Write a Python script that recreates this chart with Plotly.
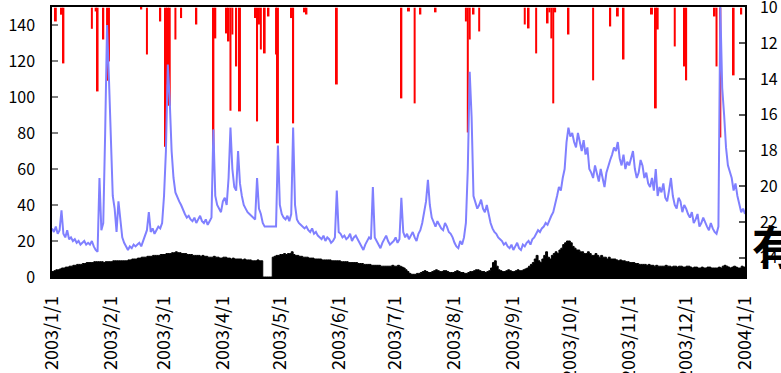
import datetime as dt
import plotly.graph_objects as go

# ---- data ----
start = dt.date(2003, 1, 1)

flow = [
    27, 25, 28, 24, 26, 37, 24, 22, 26, 21,
    22, 20, 21, 19, 20, 18, 19, 20, 18, 19,
    18, 20, 17, 15, 14, 55, 26, 30, 80, 140,
    110, 75, 45, 38, 25, 42, 30, 22, 19, 17,
    15, 17, 16, 18, 17, 18, 19, 17, 20, 22,
    26, 36, 25, 27, 24, 26, 28, 27, 30, 45,
    70, 118, 98, 70, 55, 47, 44, 42, 40, 37,
    35, 33, 34, 32, 31, 33, 30, 32, 34, 31,
    30, 32, 29, 31, 33, 82, 45, 40, 38, 36,
    42, 44, 40, 55, 83, 60, 50, 48, 70, 52,
    45, 40, 38, 36, 35, 34, 33, 32, 55, 38,
    35, 30, 28, 28, 28, 28, 28, 28, 28, 73,
    40, 35, 33, 32, 34, 31, 35, 83, 40, 32,
    30, 29, 28, 27, 28, 26, 25, 27, 24, 25,
    23, 22, 21, 23, 20, 22, 21, 19, 20, 22,
    48, 25, 24, 22, 23, 21, 22, 24, 20, 22,
    23, 21, 19, 17, 15, 18, 20, 22, 21, 50,
    22, 20, 18, 16, 19, 21, 23, 20, 18, 19,
    20, 22, 19, 21, 44, 25, 22, 24, 21, 23,
    25, 22, 20, 24, 26, 30, 37, 42, 54, 40,
    33, 30, 28, 31, 29, 27, 26, 30, 28, 25,
    24, 22, 19, 17, 16, 20, 18, 22, 30, 60,
    114, 89, 45, 42, 38, 40, 43, 38, 36, 40,
    35, 30, 27, 25, 24, 22, 21, 20, 18, 19,
    17, 16, 18, 15, 17, 19, 16, 15, 18, 17,
    19, 20, 18, 21, 22, 24, 26, 25, 27, 28,
    30, 29, 32, 34, 36, 40, 45, 50, 48, 55,
    60, 75, 83, 78, 80, 75, 72, 80, 74, 70,
    76, 68, 72, 60, 58, 55, 62, 57, 53, 60,
    55, 50, 58, 62, 65, 68, 72, 70, 75, 66,
    62, 68, 60, 64, 62, 66, 70, 60, 55, 58,
    65, 62, 55, 58, 52, 50, 55, 48, 60, 45,
    50, 47, 52, 44, 42, 48, 55, 45, 40, 38,
    44, 42, 36, 40, 38, 35, 33, 36, 30, 32,
    35, 28, 30, 33, 30, 28, 26, 30, 27, 25,
    24, 28, 150, 105, 90, 72, 62, 58, 55, 48,
    52, 45, 40, 36, 38, 35,
]

base_flow = [
    3, 3.5, 4, 4, 4.5, 5, 5, 5.5, 5.5, 6,
    6, 6.5, 6.5, 7, 7, 7, 7.5, 7.5, 8, 8,
    8, 8, 8.5, 8.5, 8.5, 8.5, 8.5, 8, 8.5, 8.5,
    8.5, 8.5, 9, 9, 9, 9, 9, 9, 9, 9,
    9.5, 9.5, 10, 10, 10, 10.5, 10.5, 11, 11, 11,
    11.5, 11.5, 11.5, 12, 12, 12, 12, 12.5, 12.5, 12.5,
    13, 13, 13, 13.5, 13.5, 14, 13.5, 13.5, 13, 13,
    13, 12.5, 12.5, 12.5, 12, 12, 12, 12, 11.5, 12,
    11.5, 11.5, 11, 11, 11, 11.5, 11, 11, 10.5, 10.5,
    11, 11, 10.5, 10.5, 10, 10.5, 10, 10, 10, 10,
    9.5, 10, 9.5, 9.5, 9.5, 9, 9, 9, 9.5, 9,
    9, 0, 0, 0, 0, 0, 11, 11.5, 12, 12,
    12.5, 12.5, 13, 12.5, 13, 13, 14, 12.5, 12, 12,
    11.5, 11.5, 11, 11, 11, 10.5, 10.5, 10.5, 10, 10,
    10, 10, 9.5, 9.5, 9.5, 9.5, 9.5, 9, 9, 9,
    9, 9, 8.5, 8.5, 8.5, 8.5, 8, 8, 8, 8,
    8, 7.5, 7.5, 7.5, 7, 7, 7, 7, 6.5, 6.5,
    6.5, 6.5, 6.5, 6, 6, 6, 6, 6, 6, 6.5,
    6, 6, 6.5, 6, 5.5, 5, 4, 3, 2, 1.5,
    1.5, 1.5, 2, 2, 2.5, 3, 3.5, 3, 2.5, 2.5,
    3, 3.5, 4, 3.5, 3, 3, 3.5, 3.5, 3, 2.5,
    2.5, 2.5, 3, 3.5, 3, 2.5, 2.5, 2, 2, 2.5,
    3, 3, 3.5, 4, 4, 3.5, 3, 3, 2.5, 3,
    3.5, 5, 8, 9, 6, 4, 3.5, 3, 3, 3.5,
    4, 3.5, 3, 3, 3.5, 4, 3.5, 3.5, 4, 4.5,
    5, 6, 7, 8, 10, 12, 9, 8, 10, 12,
    14, 11, 10, 12, 13, 14, 13, 15, 16, 18,
    19, 20, 20, 19, 17, 16, 15, 15, 14, 14,
    13, 13, 14, 13, 12, 12, 13, 12, 11, 12,
    11, 11, 10, 11, 10, 10, 10, 9.5, 9, 9.5,
    9, 9, 8.5, 8.5, 8, 8, 8, 7.5, 7.5, 7,
    7, 7, 7, 6.5, 7, 6.5, 6.5, 6, 6.5, 6,
    6, 6, 6, 6.5, 6, 6, 5.5, 6, 6, 5.5,
    6, 6, 5.5, 5.5, 6, 6, 5.5, 5, 5.5, 5.5,
    5, 5, 5.5, 5, 5, 5.5, 5.5, 5, 5, 5,
    5, 5.5, 5, 6, 6.5, 6, 5.5, 5, 5.5, 6,
    5.5, 5, 5, 6, 5.5, 5,
]

# rain: (day index from 2003-01-01, depth in right-axis units)
rain_days = [2, 5, 6, 21, 23, 24, 27, 29, 30, 47, 50, 57, 60, 61, 62, 65, 68, 76,
             85, 86, 92, 93, 94, 95, 97, 99, 107, 108, 109, 110, 112, 114, 118, 119,
             126, 127, 133, 134, 150, 184, 188, 191, 194, 202, 218, 219, 220, 222,
             225, 249, 251, 255, 261, 262, 263, 264, 265, 272, 285, 294, 298, 301,
             316, 318, 319, 328, 333, 334, 349, 350, 352, 359, 363]
rain_vals = [0.77, 0.39, 3.12, 1.18, 0.21, 4.69, 1.78, 4.09, 3.01, 0.10, 2.62, 0.77,
             7.79, 4.30, 5.49, 1.78, 0.58, 0.94, 7.90, 1.72, 1.44, 1.89, 5.77, 1.50,
             3.29, 5.81, 0.58, 6.37, 0.94, 2.34, 2.56, 0.49, 2.62, 7.60, 0.58, 6.48,
             0.26, 0.38, 4.30, 5.08, 0.21, 5.36, 0.38, 0.26, 0.77, 6.99, 1.78, 0.38,
             1.33, 0.94, 1.16, 2.56, 0.88, 0.26, 1.72, 5.36, 0.26, 1.50, 4.07, 1.05,
             0.49, 2.90, 0.38, 5.64, 1.22, 2.17, 3.29, 4.07, 0.49, 3.29, 7.27, 3.79,
             0.38]

month_ticks = [dt.date(2003, m, 1) for m in range(1, 13)] + [dt.date(2004, 1, 1)]
month_text = [f"{d.year}/{d.month}/1" for d in month_ticks]
left_ticks = [0, 20, 40, 60, 80, 100, 120, 140]
right_ticks = [10, 12, 14, 16, 18, 20, 22, 24]

dates = [start + dt.timedelta(days=i) for i in range(len(flow))]
base_dates = [start + dt.timedelta(days=i) for i in range(len(base_flow))]
rain_dates = [start + dt.timedelta(days=d) for d in rain_days]

FONT = "Noto Sans CJK JP, Noto Sans, sans-serif"
RAIN_TOP = 9.96
RAIN_BOTTOM = RAIN_TOP + 270 / 17.85

fig = go.Figure()

# rainfall hanging from the top (right, reversed axis)
fig.add_trace(go.Bar(
    x=rain_dates, y=rain_vals, base=10, yaxis="y",
    marker=dict(color="#FF0000", line=dict(width=0)),
    width=86400000 * 1.05, showlegend=False,
))

# base flow (black filled)
fig.add_trace(go.Scatter(
    x=base_dates, y=base_flow, yaxis="y2", mode="lines",
    line=dict(color="#000000", width=1, shape="hv"),
    fill="tozeroy", fillcolor="#000000", showlegend=False,
))

# discharge (blue line)
fig.add_trace(go.Scatter(
    x=dates, y=flow, yaxis="y2", mode="lines",
    line=dict(color="#8080FF", width=2),
    showlegend=False,
))

fig.update_layout(
    width=781, height=373,
    margin=dict(l=52, r=36, t=7, b=96),
    paper_bgcolor="white", plot_bgcolor="white",
    font=dict(family=FONT, size=16, color="#000000"),
    xaxis=dict(
        type="date", automargin=False,
        range=[dt.date(2003, 1, 1), dt.date(2004, 1, 1)],
        tickvals=month_ticks, ticktext=month_text,
        tickangle=-90, ticks="", showgrid=False, zeroline=False,
        showline=True, linecolor="#000000", linewidth=1.5, mirror=True,
        tickfont=dict(family=FONT, size=18, color="#000000"),
        ticklabelstandoff=10,
    ),
    yaxis=dict(
        side="right", range=[RAIN_BOTTOM, RAIN_TOP], automargin=False,
        tickvals=right_ticks, ticks="inside", ticklen=6,
        tickcolor="#555555", tickwidth=1.5,
        showgrid=False, zeroline=False,
        showline=True, linecolor="#000000", linewidth=1.5,
        tickfont=dict(family=FONT, size=16, color="#000000"),
        ticklabelstandoff=10, ticklabeloverflow="allow",
    ),
    yaxis2=dict(
        side="left", overlaying="y", range=[0, 150], automargin=False,
        tickvals=left_ticks, ticks="inside", ticklen=6,
        tickcolor="#808080", tickwidth=1.5,
        showgrid=False, zeroline=False,
        showline=True, linecolor="#000000", linewidth=1.5,
        tickfont=dict(family=FONT, size=16, color="#000000"),
        ticklabelstandoff=12,
    ),
    annotations=[dict(
        text="<b>有効雨量(mm)</b>", xref="paper", yref="paper",
        x=(750 - 52) / 693, y=(277 - 244) / 270,
        xanchor="left", yanchor="middle", showarrow=False,
        font=dict(family=FONT, size=46, color="#000000"),
    )],
)

fig.write_html("out.html")
